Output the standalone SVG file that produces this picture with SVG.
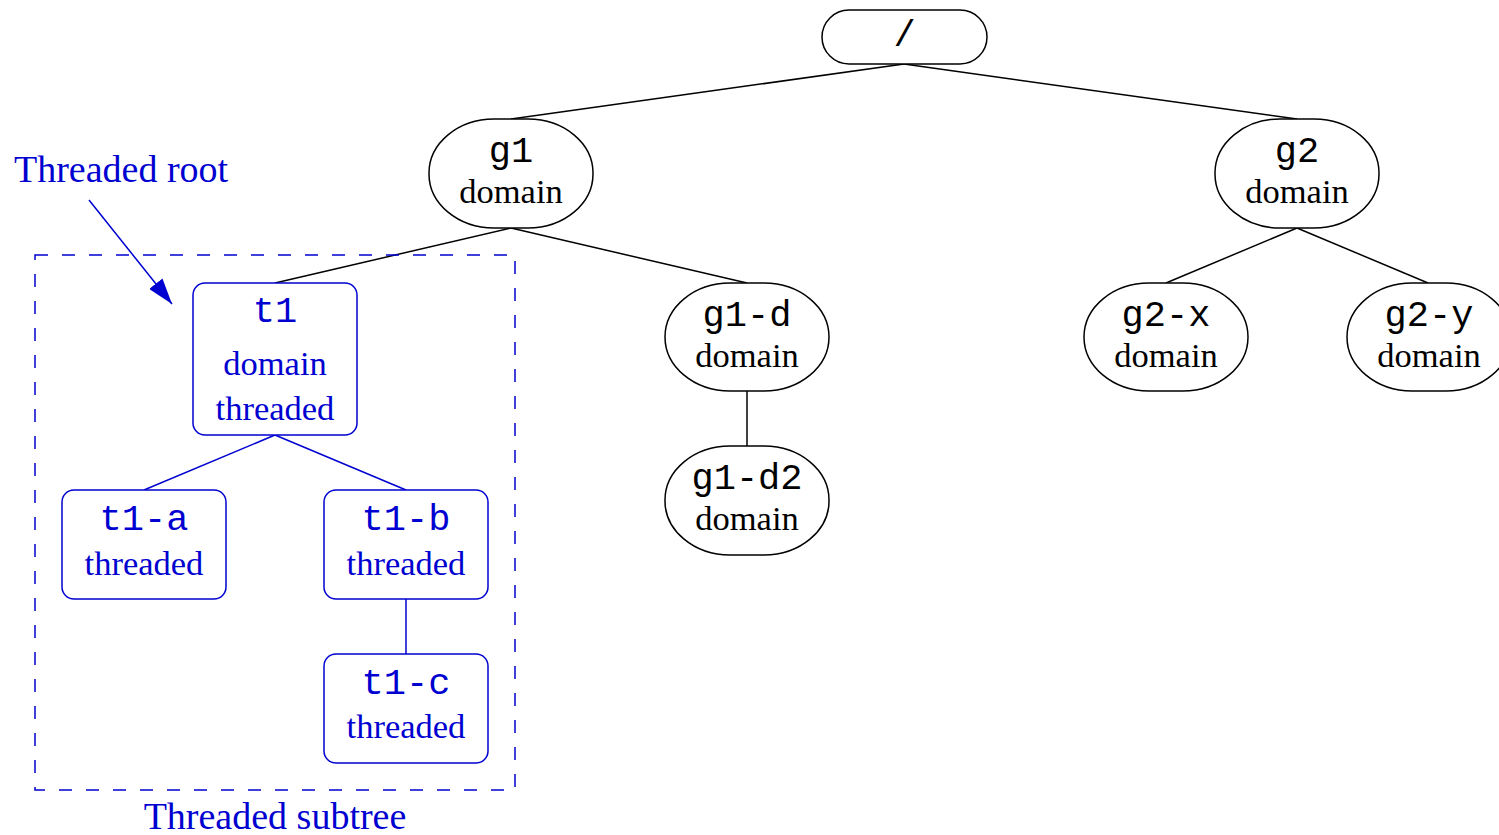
<svg xmlns="http://www.w3.org/2000/svg" width="1499" height="835" viewBox="0 0 1499 835">
<defs>
<style>
.k{fill:#fff;stroke:#000;stroke-width:1.5}
.b{fill:#fff;stroke:#0000d0;stroke-width:1.5}
.m{font-family:"Liberation Mono",monospace;font-size:37px;text-anchor:middle}
.s{font-family:"Liberation Serif",serif;font-size:34.5px;text-anchor:middle}
.a{font-family:"Liberation Serif",serif;font-size:38px}
.bk{fill:#000}
.bl{fill:#0000d0}
.ck{stroke:#000;stroke-width:1.5;fill:none}
.cb{stroke:#0000d0;stroke-width:1.5;fill:none}
</style>
<marker id="ah2" viewBox="0 0 26 17" refX="26" refY="8.5" markerWidth="26" markerHeight="17" markerUnits="userSpaceOnUse" orient="auto">
<path d="M0,0 L26,8.5 L0,17 z" fill="#0000d0"/>
</marker>
</defs>
<rect width="1499" height="835" fill="#fff"/>
<g id="connectors">
<line class="ck" x1="904" y1="64" x2="511" y2="119"/>
<line class="ck" x1="904" y1="64" x2="1297" y2="119"/>
<line class="ck" x1="511" y1="228" x2="275" y2="283"/>
<line class="ck" x1="511" y1="228" x2="747" y2="283"/>
<line class="ck" x1="747" y1="391" x2="747" y2="446"/>
<line class="ck" x1="1297" y1="228" x2="1166" y2="283"/>
<line class="ck" x1="1297" y1="228" x2="1428" y2="283"/>
<line class="cb" x1="275" y1="435" x2="144" y2="490"/>
<line class="cb" x1="275" y1="435" x2="406" y2="490"/>
<line class="cb" x1="406" y1="599" x2="406" y2="654"/>
</g>
<g id="subtree-box">
<rect x="35" y="255" width="480" height="535" fill="none" stroke="#0000d0" stroke-width="1.5" stroke-dasharray="13,14"/>
<text class="a bl" x="275" y="829" text-anchor="middle">Threaded subtree</text>
</g>
<g id="threaded-root-label">
<text class="a bl" x="14" y="182">Threaded root</text>
<line class="cb" x1="89" y1="200" x2="172" y2="304" marker-end="url(#ah2)"/>
</g>
<g id="root">
<rect class="k" x="822" y="10" width="165" height="54" rx="27" ry="27"/>
<text class="m bk" x="904.5" y="46">/</text>
</g>
<g id="g1">
<rect class="k" x="429" y="119" width="164" height="109" rx="65" ry="54"/>
<text class="m bk" x="511" y="162">g1</text>
<text class="s bk" x="511" y="203">domain</text>
</g>
<g id="g2">
<rect class="k" x="1215" y="119" width="164" height="109" rx="65" ry="54"/>
<text class="m bk" x="1297" y="162">g2</text>
<text class="s bk" x="1297" y="203">domain</text>
</g>
<g id="g1-d">
<rect class="k" x="665" y="283" width="164" height="108" rx="65" ry="54"/>
<text class="m bk" x="747" y="326">g1-d</text>
<text class="s bk" x="747" y="367">domain</text>
</g>
<g id="g1-d2">
<rect class="k" x="665" y="446" width="164" height="109" rx="65" ry="54"/>
<text class="m bk" x="747" y="489">g1-d2</text>
<text class="s bk" x="747" y="530">domain</text>
</g>
<g id="g2-x">
<rect class="k" x="1084" y="283" width="164" height="108" rx="65" ry="54"/>
<text class="m bk" x="1166" y="326">g2-x</text>
<text class="s bk" x="1166" y="367">domain</text>
</g>
<g id="g2-y">
<rect class="k" x="1347" y="283" width="164" height="108" rx="65" ry="54"/>
<text class="m bk" x="1429" y="326">g2-y</text>
<text class="s bk" x="1429" y="367">domain</text>
</g>
<g id="t1">
<rect class="b" x="193" y="283" width="164" height="152" rx="12" ry="12"/>
<text class="m bl" x="275" y="322">t1</text>
<text class="s bl" x="275" y="375">domain</text>
<text class="s bl" x="275" y="420">threaded</text>
</g>
<g id="t1-a">
<rect class="b" x="62" y="490" width="164" height="109" rx="12" ry="12"/>
<text class="m bl" x="144" y="530">t1-a</text>
<text class="s bl" x="144" y="575">threaded</text>
</g>
<g id="t1-b">
<rect class="b" x="324" y="490" width="164" height="109" rx="12" ry="12"/>
<text class="m bl" x="406" y="530">t1-b</text>
<text class="s bl" x="406" y="575">threaded</text>
</g>
<g id="t1-c">
<rect class="b" x="324" y="654" width="164" height="109" rx="12" ry="12"/>
<text class="m bl" x="406" y="694">t1-c</text>
<text class="s bl" x="406" y="738">threaded</text>
</g>
</svg>
